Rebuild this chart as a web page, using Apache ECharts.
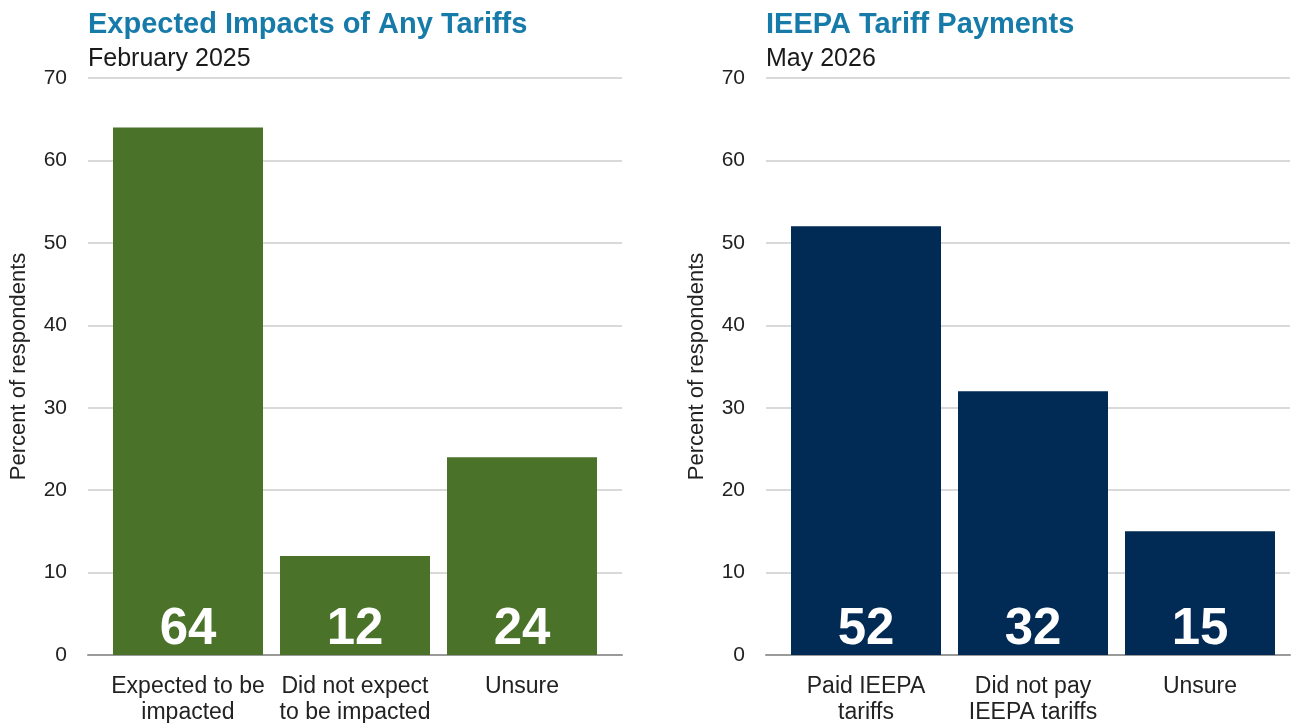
<!DOCTYPE html>
<html>
<head>
<meta charset="utf-8">
<script src="https://cdn.jsdelivr.net/npm/echarts@6/dist/echarts.min.js"></script>
<style>
html,body{margin:0;padding:0;background:#fff;}
#chart{width:1300px;height:723px;}
</style>
</head>
<body>
<div id="chart"></div>
<script>
const leftTitle = "Expected Impacts of Any Tariffs";
const leftSubtitle = "February 2025";
const leftCategories = ["Expected to be\nimpacted", "Did not expect\nto be impacted", "Unsure"];
const leftValues = [64, 12, 24];

const rightTitle = "IEEPA Tariff Payments";
const rightSubtitle = "May 2026";
const rightCategories = ["Paid IEEPA\ntariffs", "Did not pay\nIEEPA tariffs", "Unsure"];
const rightValues = [52, 32, 15];

const yMin = 0, yMax = 70, yStep = 10;
const yAxisName = "Percent of respondents";

const FONT = '"Liberation Sans", Arial, sans-serif';
const TITLE_COLOR = '#177ba9';
const GREEN = '#4a7229';
const NAVY = '#012a55';

const chart = echarts.init(document.getElementById('chart'), null, {renderer: 'canvas'});

function gridAxisY(gridIndex, show) {
  return {
    type: 'value', gridIndex, min: yMin, max: yMax, interval: yStep,
    name: show ? yAxisName : '', nameLocation: 'middle', nameGap: 58,
    nameTextStyle: {fontFamily: FONT, fontSize: 22, color: '#222'},
    axisLabel: {show: show, fontFamily: FONT, fontSize: 21, color: '#222', margin: 21},
    axisLine: {show: false}, axisTick: {show: false},
    splitLine: {show: show, lineStyle: {color: '#d9d9d9', width: 2}}
  };
}

const gridBase = {top: 78, bottom: 68, containLabel: false, outerBoundsMode: 'none'};

const option = {
  animation: false,
  backgroundColor: '#fff',
  title: [
    {text: leftTitle, left: 88, top: 10, padding: 0, textStyle: {fontFamily: FONT, fontSize: 29, fontWeight: 'bold', color: TITLE_COLOR}},
    {text: leftSubtitle, left: 88, top: 47, padding: 0, textStyle: {fontFamily: FONT, fontSize: 25, fontWeight: 'normal', color: '#1a1a1a'}},
    {text: rightTitle, left: 766, top: 10, padding: 0, textStyle: {fontFamily: FONT, fontSize: 29, fontWeight: 'bold', color: TITLE_COLOR}},
    {text: rightSubtitle, left: 766, top: 47, padding: 0, textStyle: {fontFamily: FONT, fontSize: 25, fontWeight: 'normal', color: '#1a1a1a'}}
  ],
  grid: [
    Object.assign({left: 88, right: 678}, gridBase),
    Object.assign({left: 104.5, right: 694.5}, gridBase),
    Object.assign({left: 766, right: 10}, gridBase),
    Object.assign({left: 782.5, right: 16.5}, gridBase)
  ],
  xAxis: [
    {type: 'category', gridIndex: 0, data: leftCategories, axisLabel: {show: false}, axisTick: {show: false},
     axisLine: {show: true, lineStyle: {color: '#9a9a9a', width: 2}}},
    {type: 'category', gridIndex: 1, data: leftCategories, axisTick: {show: false}, axisLine: {show: false},
     axisLabel: {fontFamily: FONT, fontSize: 23, color: '#222', margin: 19, lineHeight: 26, interval: 0}},
    {type: 'category', gridIndex: 2, data: rightCategories, axisLabel: {show: false}, axisTick: {show: false},
     axisLine: {show: true, lineStyle: {color: '#9a9a9a', width: 2}}},
    {type: 'category', gridIndex: 3, data: rightCategories, axisTick: {show: false}, axisLine: {show: false},
     axisLabel: {fontFamily: FONT, fontSize: 23, color: '#222', margin: 19, lineHeight: 26, interval: 0}}
  ],
  yAxis: [
    gridAxisY(0, true),
    gridAxisY(1, false),
    gridAxisY(2, true),
    gridAxisY(3, false)
  ],
  series: [
    {type: 'bar', xAxisIndex: 1, yAxisIndex: 1, data: leftValues, barWidth: 150,
     itemStyle: {color: GREEN},
     label: {show: true, position: 'insideBottom', distance: 0, fontFamily: FONT, fontSize: 51, fontWeight: 'bold', color: '#fff'}},
    {type: 'bar', xAxisIndex: 3, yAxisIndex: 3, data: rightValues, barWidth: 150,
     itemStyle: {color: NAVY},
     label: {show: true, position: 'insideBottom', distance: 0, fontFamily: FONT, fontSize: 51, fontWeight: 'bold', color: '#fff'}}
  ]
};
chart.setOption(option);
</script>
</body>
</html>
